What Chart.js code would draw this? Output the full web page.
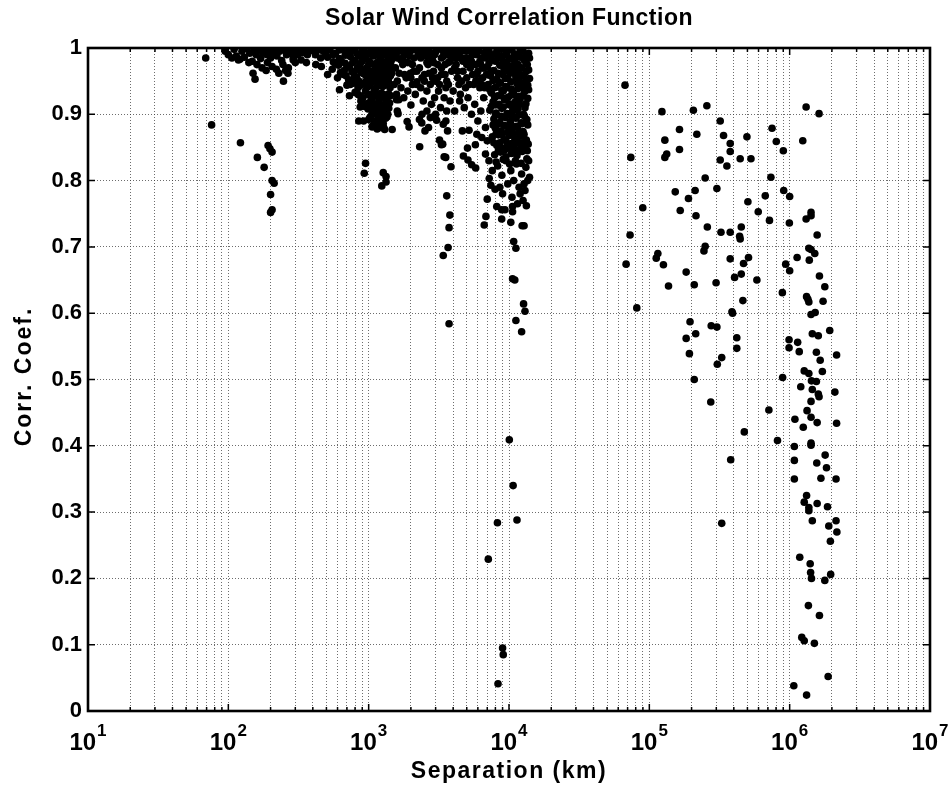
<!DOCTYPE html>
<html>
<head>
<meta charset="utf-8">
<script src="https://cdn.jsdelivr.net/npm/chart.js@4.4.1/dist/chart.umd.min.js"></script>
<style>
body{margin:0;background:#fff}
</style>
</head>
<body>
<canvas id="chart" width="948" height="787"></canvas>
<script>
// separation (km), correlation coefficient

// dense band 90-500 km
let bandNear = [
[95,0.995],[100,0.99],[110,0.998],[114,0.988],[125,0.995],[130,0.986],[136,0.999],[142,0.992],[148,0.98],[152,0.996],
[158,0.99],[165,0.998],[170,0.984],[176,0.993],[182,0.999],[188,0.99],[195,0.997],[200,0.985],[208,0.993],[215,0.999],
[222,0.988],[232,0.995],[240,0.981],[250,0.997],[260,0.99],[270,0.998],[280,0.992],[290,0.985],[300,0.997],[312,0.99],
[324,0.999],[338,0.993],[352,0.998],[366,0.99],[382,0.996],[400,0.999],[418,0.99],[436,0.997],[455,0.985],[475,0.995],
[495,0.99],[160,0.975],[174,0.97],[190,0.978],[205,0.972],[220,0.968],[245,0.975],[268,0.97],[186,0.966],[256,0.966],
[300,0.978],[330,0.982],[360,0.978],[420,0.975],[460,0.972],[140,0.978],[118,0.982]
]

// dense band 500-1500 km
let bandMid = [
[530,0.997],[580,0.992],[640,0.998],[700,0.993],[760,0.999],[830,0.991],[900,0.996],[970,0.99],[1040,0.998],[1110,0.993],[1180,0.997],[1250,0.991],[1320,0.999],[1400,0.994],[1480,0.996],
[510,0.986],[560,0.979],[620,0.984],[680,0.977],[740,0.987],[800,0.981],[870,0.976],[940,0.985],[1010,0.98],[1080,0.988],[1150,0.978],[1220,0.984],[1290,0.977],[1370,0.986],[1450,0.981],
[550,0.968],[610,0.974],[670,0.966],[730,0.971],[790,0.964],[860,0.972],[930,0.967],[1000,0.975],[1070,0.965],[1140,0.97],[1210,0.973],[1280,0.964],[1360,0.969],[1440,0.974],
[600,0.955],[660,0.96],[720,0.952],[790,0.957],[850,0.95],[920,0.961],[990,0.954],[1060,0.959],[1130,0.951],[1200,0.956],[1270,0.962],[1350,0.953],[1430,0.958],
[700,0.944],[780,0.947],[840,0.94],[910,0.946],[980,0.941],[1050,0.948],[1120,0.939],[1190,0.945],[1260,0.942],[1340,0.947],[1420,0.94],
[800,0.933],[870,0.928],[950,0.935],[1020,0.929],[1090,0.934],[1160,0.927],[1230,0.932],[1310,0.926],[1390,0.931],
[880,0.92],[960,0.916],[1040,0.922],[1110,0.915],[1180,0.919],[1250,0.914],[1330,0.921],[1410,0.917],
[990,0.908],[1070,0.903],[1140,0.909],[1210,0.902],[1290,0.907],[1370,0.9],
[1020,0.895],[1100,0.89],[1170,0.896],[1240,0.889],[1320,0.894],
[1060,0.882],[1150,0.878],[1230,0.884],[1300,0.877],
[560,0.99],[620,0.997],[680,0.989],[740,0.993],[800,0.997],[860,0.988],[940,0.994],[1010,0.991],[1080,0.996],[1150,0.989],[1220,0.997],[1290,0.99],[1360,0.995],[1440,0.989],
[580,0.976],[640,0.98],[700,0.973],[770,0.978],[830,0.97],[900,0.98],[970,0.97],[1040,0.977],[1110,0.972],[1180,0.979],[1250,0.971],[1320,0.978],[1400,0.969],
[630,0.963],[690,0.958],[760,0.964],[820,0.956],[890,0.963],[960,0.958],[1030,0.965],[1100,0.957],[1170,0.963],[1240,0.957],[1310,0.964],[1390,0.955],[1460,0.962],
[740,0.945],[810,0.951],[880,0.944],[950,0.949],[1020,0.943],[1090,0.951],[1160,0.943],[1230,0.949],[1300,0.944],[1380,0.95],
[840,0.93],[910,0.925],[990,0.93],[1060,0.924],[1130,0.931],[1200,0.924],[1270,0.93],[1350,0.923],[1430,0.928],
[930,0.912],[1010,0.917],[1080,0.911],[1160,0.916],[1230,0.91],[1310,0.915],[1390,0.909],
[1050,0.899],[1130,0.902],[1200,0.897],[1270,0.901],[1350,0.896],
[1100,0.885],[1190,0.888],[1270,0.886]
]

// band 1500-7000 km
let bandUpper = [
[1500,0.995],[1600,0.985],[1700,0.998],[1800,0.99],[1900,0.978],[2000,0.996],[2100,0.985],[2250,0.993],[2400,0.999],[2550,0.988],
[2700,0.996],[2850,0.982],[3000,0.994],[3200,0.999],[3400,0.987],[3600,0.995],[3800,0.98],[4000,0.992],[4300,0.998],[1550,0.97],
[1650,0.962],[1750,0.975],[1850,0.955],[2300,0.97],[2500,0.96],[2650,0.975],[2900,0.965],[3100,0.955],[3300,0.97],[3500,0.96],
[3700,0.945],[3900,0.965],[4200,0.975],[1520,0.945],[1580,0.93],[1700,0.94],[1780,0.925],[1900,0.935],[2050,0.945],[2150,0.93],
[2350,0.94],[2450,0.92],[2600,0.935],[2750,0.945],[2800,0.915],[2950,0.925],[3150,0.935],[3250,0.91],[3450,0.925],[3600,0.905],
[3800,0.92],[4000,0.935],[4100,0.905],[4400,0.945],[4450,0.92],[3400,0.885],[3650,0.875],[2400,0.9],[2600,0.905],[2750,0.895],
[3000,0.9],[3550,0.89],
[4600,0.995],[4900,0.985],[5200,0.998],[5500,0.99],[5800,0.975],[6100,0.996],[6400,0.985],[6700,0.993],[4700,0.965],[5000,0.955],
[5300,0.97],[5600,0.945],[5900,0.96],[6200,0.94],[6500,0.955],[4500,0.93],[4800,0.91],[5100,0.925],[5400,0.9],[5700,0.915],
[6000,0.89],[6300,0.905],[6600,0.925],[4650,0.875],[5900,0.87],[6400,0.865],[6800,0.88],
[1550,0.99],[1650,0.995],[1750,0.985],[1850,0.997],[1950,0.988],[2050,0.975],[2150,0.998],[2200,0.965],[2350,0.985],[2450,0.993],
[2600,0.978],[2750,0.987],[2950,0.99],[3100,0.975],[3300,0.985],[3500,0.975],[3700,0.99],[3900,0.985],[4100,0.97],[4500,0.985],
[4800,0.997],[5000,0.975],[5400,0.98],[5700,0.995],[6000,0.965],[6300,0.975],[6600,0.97],[1600,0.95],[1800,0.96],[2000,0.955],
[2200,0.945],[2500,0.95],[2850,0.955],[3200,0.945],[3550,0.94],[4300,0.955],[4900,0.94],[5500,0.96],[6100,0.95],[6700,0.94],
[1700,0.982],[1900,0.992],[2300,0.99],[2600,0.997],[2900,0.978],[3100,0.998],[3400,0.995],[3700,0.978],[3900,0.997],[2100,0.965],
[2400,0.955],[2700,0.962],[3000,0.95],[3300,0.96],[3600,0.95],
[4200,0.985],[4400,0.99],[4700,0.98],[5000,0.995],[5300,0.985],[5600,0.975],[5900,0.99],[6200,0.98],[6500,0.97],[6800,0.985],
[4300,0.965],[4600,0.95],[5200,0.945],[5800,0.95],[6400,0.945],[6900,0.96]
]

// dense band 7000-14000 km
let bandFar = [
[7200,0.996],[8000,0.991],[8800,0.998],[9600,0.993],[10500,0.997],[11500,0.99],[12600,0.995],[13800,0.992],
[7600,0.982],[8400,0.987],[9200,0.979],[10000,0.985],[11000,0.98],[12000,0.986],[13200,0.978],
[7000,0.971],[7800,0.966],[8600,0.974],[9400,0.968],[10300,0.972],[11200,0.965],[12300,0.97],[13500,0.975],
[7400,0.958],[8200,0.953],[9000,0.96],[9800,0.955],[10700,0.962],[11700,0.951],[12800,0.957],[14000,0.954],
[7100,0.945],[7900,0.94],[8700,0.947],[9500,0.942],[10400,0.938],[11400,0.946],[12500,0.941],[13600,0.944],
[7500,0.932],[8300,0.928],[9100,0.935],[9900,0.926],[10800,0.931],[11800,0.927],[12900,0.934],
[7700,0.919],[8500,0.915],[9300,0.922],[10100,0.914],[11000,0.918],[12000,0.923],[13200,0.916],
[7300,0.906],[8100,0.902],[8900,0.909],[9700,0.901],[10600,0.905],[11600,0.908],[12700,0.9],
[7800,0.893],[8600,0.888],[9400,0.895],[10200,0.889],[11200,0.894],[12200,0.887],[13400,0.892],
[8000,0.879],[8800,0.875],[9600,0.882],[10500,0.876],[11500,0.88],[12600,0.874],
[7600,0.866],[8400,0.869],[9200,0.862],[10000,0.868],[11000,0.863],[12100,0.867],[13300,0.861],
[8200,0.853],[9000,0.849],[9800,0.855],[10800,0.85],[11800,0.856],[12900,0.848],
[7900,0.839],[8700,0.843],[9500,0.836],[10400,0.841],[11400,0.838],[12400,0.844],
[8100,0.828],[9100,0.832],[10100,0.825],[11100,0.83],[12200,0.826],[13400,0.833],
[7200,0.83],[7600,0.815],[8300,0.822],[8900,0.808],[9500,0.83],[9800,0.795],[10300,0.815],[10800,0.8],[11300,0.825],[11800,0.79],
[12300,0.81],[12800,0.795],[13200,0.82],[13600,0.8],[14000,0.805],[9000,0.78],[10500,0.775],[11500,0.765],[12000,0.78],[12600,0.77],
[13000,0.785],[8600,0.79],[13800,0.83],[7000,0.86],[6800,0.84],
[7400,0.99],[8200,0.996],[9000,0.988],[9900,0.999],[10900,0.991],[12000,0.997],[13200,0.989],[14000,0.985],
[7200,0.977],[8000,0.98],[8800,0.984],[9700,0.976],[10600,0.983],[11600,0.975],[12800,0.982],[13800,0.967],
[7500,0.965],[8400,0.962],[9200,0.969],[10100,0.963],[11000,0.97],[12000,0.96],[13200,0.964],
[7700,0.951],[8500,0.948],[9400,0.954],[10300,0.949],[11200,0.955],[12300,0.947],[13400,0.952],
[7300,0.937],[8100,0.941],[8900,0.936],[9700,0.94],[10600,0.935],[11600,0.939],[12700,0.943],[13800,0.937],
[7900,0.925],[8700,0.928],[9500,0.924],[10400,0.929],[11400,0.925],[12500,0.928],[13600,0.924],
[7500,0.912],[8300,0.914],[9100,0.911],[10000,0.916],[10900,0.912],[11900,0.915],[13000,0.91],
[8000,0.899],[8800,0.897],[9700,0.9],[10600,0.896],[11700,0.899],[12900,0.897],
[7700,0.884],[8500,0.886],[9300,0.883],[10300,0.885],[11300,0.882],[12400,0.886],[13600,0.884],
[8100,0.871],[8900,0.87],[9800,0.873],[10700,0.869],[11700,0.872],[12800,0.87],
[7800,0.857],[8600,0.857],[9500,0.86],[10400,0.856],[11400,0.859],[12500,0.857],[13700,0.855],
[8400,0.845],[9300,0.846],[10200,0.849],[11200,0.846],[12300,0.849],[13500,0.845]
]

// scattered points below the band, up to ~6000 km
let sparseLeft = [
[69,0.985],[76,0.884],[106,0.985],[121,0.983],[122,0.857],[150,0.962],[155,0.953],[161,0.835],[180,0.82],[192,0.853],
[198,0.848],[205,0.843],[205,0.8],[212,0.796],[200,0.779],[200,0.752],[205,0.756],[229,0.962],[247,0.95],[266,0.962],
[290,0.982],[510,0.96],[620,0.937],[730,0.928],[870,0.911],[920,0.89],[850,0.89],[1000,0.892],[1060,0.881],[950,0.826],
[930,0.811],[1270,0.812],[1330,0.806],[1240,0.792],[1330,0.798],[2310,0.851],[3540,0.835],[3200,0.861],[3370,0.855],[1210,0.88],
[1470,0.877],[1280,0.88],[1580,0.922],[1640,0.922],[1600,0.905],[1620,0.901],[1980,0.962],[2210,0.949],[2000,0.914],[2300,0.892],
[2390,0.887],[2520,0.875],[2670,0.88],[2860,0.896],[3050,0.891],[1880,0.889],[1940,0.881],[3300,0.854],[3450,0.836],[3860,0.821],
[3600,0.777],[3790,0.748],[3740,0.729],[3680,0.699],[3400,0.687],[3740,0.584],[4730,0.837],[5100,0.831],[5420,0.824],[5790,0.819],
[5060,0.849],[5760,0.854],[5190,0.876]
]

// tail of the 10^4 km group
let tail10k = [
[7000,0.772],[6850,0.746],[6660,0.733],[7230,0.803],[7430,0.793],[7960,0.787],[8180,0.761],[8870,0.756],[9360,0.756],[8870,0.742],
[10300,0.737],[10600,0.761],[10600,0.753],[12400,0.732],[12800,0.732],[13300,0.762],[10800,0.708],[11200,0.698],[10600,0.652],[11000,0.65],
[12700,0.614],[13000,0.603],[11200,0.589],[12300,0.572],[10050,0.409],[10700,0.34],[8270,0.284],[11400,0.288],[7120,0.229],[9000,0.095],
[9100,0.085],[8350,0.041]
]

// far group 6e4 - 2.2e6 km
let remote = [
[67100,0.944],[123000,0.904],[206000,0.906],[257000,0.913],[320000,0.89],[164000,0.877],[218000,0.87],[129000,0.861],[129000,0.835],[133000,0.84],
[164000,0.847],[338000,0.868],[377000,0.856],[377000,0.844],[320000,0.831],[357000,0.822],[444000,0.833],[530000,0.833],[496000,0.866],[749000,0.879],
[803000,0.859],[901000,0.845],[1310000,0.911],[1620000,0.901],[1240000,0.86],[73800,0.835],[89800,0.759],[72900,0.718],[68300,0.674],[81400,0.608],
[250000,0.804],[303000,0.788],[153000,0.783],[190000,0.773],[212000,0.785],[166000,0.755],[215000,0.747],[259000,0.73],[504000,0.768],[597000,0.753],
[670000,0.777],[735000,0.805],[907000,0.785],[1000000,0.776],[718000,0.74],[995000,0.736],[324000,0.722],[377000,0.722],[452000,0.73],[440000,0.716],
[444000,0.712],[250000,0.701],[245000,0.694],[115000,0.69],[112000,0.683],[126000,0.673],[183000,0.662],[137000,0.641],[209000,0.643],[299000,0.646],
[377000,0.682],[469000,0.675],[509000,0.684],[405000,0.654],[452000,0.659],[584000,0.65],[464000,0.619],[388000,0.602],[392000,0.6],[887000,0.631],
[937000,0.674],[1000000,0.664],[1130000,0.684],[1380000,0.68],[1370000,0.698],[1510000,0.69],[1420000,0.696],[1570000,0.718],[1310000,0.742],[1420000,0.752],
[1420000,0.747],[1630000,0.656],[1780000,0.64],[1730000,0.618],[1320000,0.625],[1370000,0.617],[1350000,0.621],[1420000,0.598],[1520000,0.601],[1930000,0.574],
[1450000,0.569],[1600000,0.566],[990000,0.56],[990000,0.548],[1140000,0.556],[1170000,0.542],[1550000,0.541],[1650000,0.529],[2160000,0.537],[1710000,0.512],
[1270000,0.513],[1370000,0.509],[1430000,0.498],[1550000,0.497],[1200000,0.489],[1450000,0.485],[1600000,0.478],[1620000,0.474],[1420000,0.467],[2100000,0.481],
[711000,0.454],[891000,0.503],[420000,0.563],[420000,0.547],[328000,0.533],[305000,0.523],[274000,0.466],[195000,0.587],[183000,0.562],[214000,0.569],
[193000,0.539],[209000,0.5],[276000,0.581],[303000,0.579],
[475000,0.421],[819000,0.408],[380000,0.379],[328000,0.283],[1090000,0.44],[1250000,0.428],[1330000,0.453],[1420000,0.443],[1570000,0.435],[2160000,0.434],
[1080000,0.399],[1080000,0.378],[1080000,0.35],[1420000,0.404],[1420000,0.401],[1790000,0.386],[1560000,0.374],[1830000,0.367],[1670000,0.351],[2140000,0.35],
[1320000,0.325],[1270000,0.315],[1370000,0.307],[1370000,0.302],[1570000,0.313],[1860000,0.308],[1450000,0.287],[2140000,0.287],[1900000,0.279],[2170000,0.27],
[1950000,0.256],[1180000,0.232],[1400000,0.222],[1410000,0.209],[1430000,0.2],[1780000,0.197],[1960000,0.206],[1360000,0.159],[1630000,0.144],[1220000,0.111],
[1270000,0.106],[1500000,0.102],[1880000,0.052],[1070000,0.038],[1320000,0.024]
]

// axis ticks
let decades = [1,2,3,4,5,6,7]
let mults = [1,2,3,4,5,6,7,8,9]
let xTicks = []
decades.forEach(d => {
  if (d == 7) { xTicks.push(1e7); return }
  mults.forEach(m => xTicks.push(m * Math.pow(10, d)))
})

let points = [].concat(bandNear, bandMid, bandUpper, bandFar, sparseLeft, tail10k, remote)
  .map(p => ({x: p[0], y: p[1]}))

const FONT = '"Liberation Sans", Arial, sans-serif'
const gridColor = 'rgba(60,60,60,0.75)'

let decor = {
  id: 'decor',
  afterDraw(chart) {
    let ctx = chart.ctx
    let a = chart.chartArea
    let xs = chart.scales.x
    let ys = chart.scales.y
    ctx.save()
    ctx.fillStyle = '#000'
    ctx.strokeStyle = '#000'

    // inward tick marks
    ctx.lineWidth = 1.5
    xTicks.forEach(v => {
      let px = xs.getPixelForValue(v)
      let major = decades.some(d => Math.abs(v - Math.pow(10, d)) < 1e-6 * v)
      let len = major ? 7 : 4
      ctx.beginPath()
      ctx.moveTo(px, a.bottom); ctx.lineTo(px, a.bottom - len)
      ctx.moveTo(px, a.top); ctx.lineTo(px, a.top + len)
      ctx.stroke()
    })
    ys.ticks.forEach(t => {
      let py = ys.getPixelForValue(t.value)
      ctx.beginPath()
      ctx.moveTo(a.left, py); ctx.lineTo(a.left + 7, py)
      ctx.moveTo(a.right, py); ctx.lineTo(a.right - 7, py)
      ctx.stroke()
    })

    // frame
    ctx.lineWidth = 2.6
    ctx.strokeRect(a.left, a.top, a.right - a.left, a.bottom - a.top)

    // x tick labels 10^n
    decades.forEach(d => {
      let px = xs.getPixelForValue(Math.pow(10, d))
      ctx.font = 'bold 24px ' + FONT
      let wb = ctx.measureText('10').width
      ctx.font = 'bold 17px ' + FONT
      let we = ctx.measureText(String(d)).width
      let x0 = px - (wb + we + 1) / 2
      ctx.textAlign = 'left'
      ctx.textBaseline = 'alphabetic'
      ctx.font = 'bold 24px ' + FONT
      ctx.fillText('10', x0, 750)
      ctx.font = 'bold 17px ' + FONT
      ctx.fillText(String(d), x0 + wb + 1, 736)
    })

    // title and axis titles
    ctx.textAlign = 'center'
    ctx.letterSpacing = '0.5px'
    ctx.font = 'bold 23px ' + FONT
    ctx.fillText('Solar Wind Correlation Function', (a.left + a.right) / 2, 25)
    ctx.letterSpacing = '1.5px'
    ctx.font = 'bold 23px ' + FONT
    ctx.fillText('Separation (km)', (a.left + a.right) / 2, 778)
    ctx.letterSpacing = '2px'
    ctx.translate(31, (a.top + a.bottom) / 2 - 3)
    ctx.rotate(-Math.PI / 2)
    ctx.fillText('Corr. Coef.', 0, 0)
    ctx.restore()
  }
}

new Chart(document.getElementById('chart'), {
  type: 'scatter',
  data: {
    datasets: [{
      label: 'Corr. Coef.',
      data: points,
      pointRadius: 3.8,
      pointBackgroundColor: '#000',
      pointBorderColor: '#000',
      pointBorderWidth: 0
    }]
  },
  options: {
    responsive: false,
    animation: false,
    devicePixelRatio: 1,
    events: [],
    layout: {padding: {top: 48, right: 18, left: 0, bottom: 0}},
    plugins: {legend: {display: false}, tooltip: {enabled: false}, title: {display: false}},
    scales: {
      x: {
        type: 'logarithmic',
        min: 10,
        max: 1e7,
        afterBuildTicks: s => { s.ticks = xTicks.map(v => ({value: v})) },
        afterFit: s => { s.height = 76 },
        ticks: {display: false},
        grid: {color: gridColor, lineWidth: 1, drawTicks: false},
        border: {display: false, dash: [1, 2]}
      },
      y: {
        min: 0,
        max: 1,
        afterFit: s => { s.width = 88 },
        ticks: {
          stepSize: 0.1,
          color: '#000',
          padding: 6,
          font: {family: FONT, size: 22, weight: 'bold'},
          callback: v => String(Number(v.toFixed(1)))
        },
        grid: {color: gridColor, lineWidth: 1, drawTicks: false},
        border: {display: false, dash: [1, 2]}
      }
    }
  },
  plugins: [decor]
})
</script>
</body>
</html>
